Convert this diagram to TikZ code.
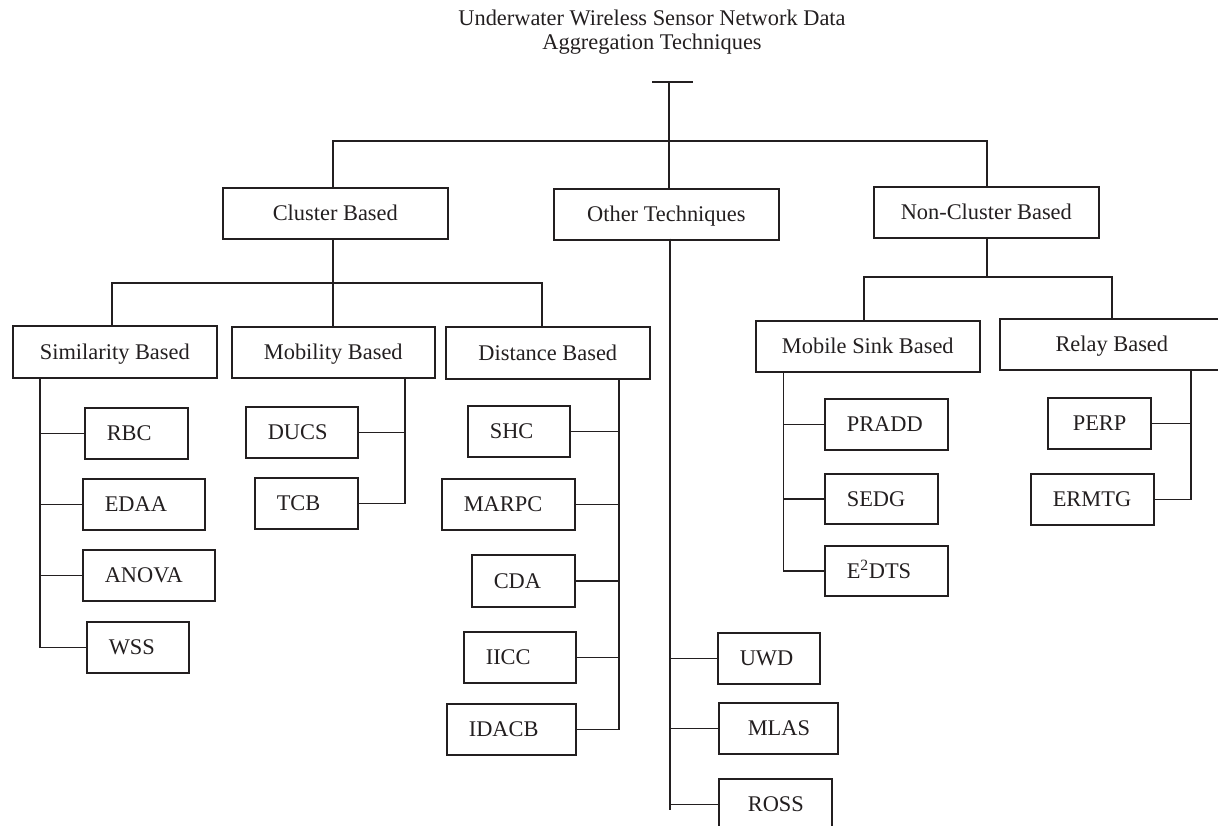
\documentclass[tikz,border=0pt]{standalone}
\usepackage{fontspec}
\setmainfont{Liberation Serif}
\definecolor{ink}{HTML}{231F20}
\begin{document}
\begin{tikzpicture}[x=1pt,y=-1pt,
  every node/.style={font=\fontsize{22.4}{24}\selectfont, text=ink},
  line/.style={line width=1.6pt, draw=ink},
  hdr/.style={draw=ink, line width=1.6pt, anchor=north west, inner sep=0pt,
    minimum height=51pt, text height=15pt, text depth=0pt},
  leaf/.style={draw=ink, line width=1.6pt, anchor=north west, inner ysep=0pt,
    inner xsep=22pt, minimum height=51pt, text height=15pt, text depth=0pt, align=left},
]
\useasboundingbox (0,0) rectangle (1218,826);
\clip (0,0) rectangle (1218,826);

% title
\node[anchor=north, inner sep=0pt, align=center] (title) at (652,10)
  {Underwater Wireless Sensor Network Data\\Aggregation Techniques};

% level 1
\node[hdr, minimum width=225pt] (cluster) at (222,187) {Cluster Based};
\node[hdr, minimum width=225pt] (other) at (553,188) {Other Techniques};
\node[hdr, minimum width=225pt] (noncl) at (873,186) {Non-Cluster Based};

% level 2
\node[hdr, minimum width=204pt, minimum height=52pt] (sim) at (12,325) {Similarity Based};
\node[hdr, minimum width=203pt] (mob) at (231,326) {Mobility Based};
\node[hdr, minimum width=204pt, minimum height=52pt] (dist) at (445,326) {Distance Based};
\node[hdr, minimum width=224pt] (msink) at (755,320) {Mobile Sink Based};
\node[hdr, minimum width=224pt] (relay) at (999,318) {Relay Based};

% leaves: similarity
\node[leaf, text width=59pt] (rbc) at (84,407) {RBC};
\node[leaf, text width=78pt] (edaa) at (82,478) {EDAA};
\node[leaf, text width=88pt] (anova) at (82,549) {ANOVA};
\node[leaf, text width=58pt] (wss) at (86,621) {WSS};
% mobility
\node[leaf, text width=68pt] (ducs) at (245,406) {DUCS};
\node[leaf, text width=59pt] (tcb) at (254,477) {TCB};
% distance
\node[leaf, text width=58pt] (shc) at (467,405) {SHC};
\node[leaf, text width=89pt] (marpc) at (441,478) {MARPC};
\node[leaf, text width=59pt, minimum height=52pt] (cda) at (471,554) {CDA};
\node[leaf, text width=68pt] (iicc) at (463,631) {IICC};
\node[leaf, text width=85pt] (idacb) at (446,703) {IDACB};
% other
\node[leaf, text width=58pt] (uwd) at (717,632) {UWD};
\node[leaf, inner xsep=29pt, text width=61pt] (mlas) at (718,702) {MLAS};
\node[leaf, inner xsep=29pt, text width=55pt] (ross) at (718,778) {ROSS};
% mobile sink
\node[leaf, text width=79pt] (pradd) at (824,398) {PRADD};
\node[leaf, text width=69pt, minimum height=50pt] (sedg) at (824,473) {SEDG};
\node[leaf, text width=79pt, minimum height=50pt] (e2dts) at (824,545) {E\textsuperscript{2}DTS};
% relay
\node[leaf, inner xsep=25pt, text width=53pt] (perp) at (1047,397) {PERP};
\node[leaf, text width=79pt] (ermtg) at (1030,473) {ERMTG};

% top T bar and first level connectors
\coordinate (tbl) at (652,82);
\coordinate (tbr) at (693,82);
\coordinate (tbm) at (669,82);
\draw[line] (tbl) -- (tbr);
\draw[line] (tbm) -- (tbm |- other.north);
\coordinate (l1L) at (333,141);
\coordinate (l1R) at (987,141);
\draw[line] (l1L |- cluster.north) |- (l1R) -- (l1R |- noncl.north);

% cluster based branches
\coordinate (c2) at (333,283);
\coordinate (c2L) at (112,283);
\coordinate (c2R) at (542,283);
\draw[line] (c2 |- cluster.south) -- (c2 |- mob.north);
\draw[line] (c2L |- sim.north) |- (c2R) -- (c2R |- dist.north);

% similarity trunk
\coordinate (simT) at (40,379);
\draw[line] (simT) |- (rbc.west);
\draw[line] (simT) |- (edaa.west);
\draw[line] (simT) |- (anova.west);
\draw[line] (simT) |- (wss.west);

% mobility trunk
\coordinate (mobT) at (405,377);
\draw[line] (mobT) |- (ducs.east);
\draw[line] (mobT) |- (tcb.east);

% distance trunk
\coordinate (distT) at (619,378);
\draw[line] (distT) |- (shc.east);
\draw[line] (distT) |- (marpc.east);
\draw[line] (distT) |- (cda.east);
\draw[line] (distT) |- (iicc.east);
\draw[line] (distT) |- (idacb.east);

% other techniques trunk
\coordinate (othT) at (670,239);
\coordinate (othB) at (670,810);
\draw[line] (othT) -- (othB);
\draw[line] (othT) |- (uwd.west);
\draw[line] (othT) |- (mlas.west);
\draw[line] (othT) |- (ross.west);

% non-cluster branches
\coordinate (ncL) at (864,277);
\coordinate (ncR) at (1112,277);
\coordinate (ncM) at (987,277);
\draw[line] (ncM |- noncl.south) -- (ncM);
\draw[line] (ncL |- msink.north) |- (ncR) -- (ncR |- relay.north);

% mobile sink trunk
\coordinate (msT) at (783.5,371);
\draw[line] (msT) |- (pradd.west);
\draw[line] (msT) |- (sedg.west);
\draw[line] (msT) |- (e2dts.west);

% relay trunk
\coordinate (rlT) at (1191,369);
\draw[line] (rlT) |- (perp.east);
\draw[line] (rlT) |- (ermtg.east);
\end{tikzpicture}
\end{document}
